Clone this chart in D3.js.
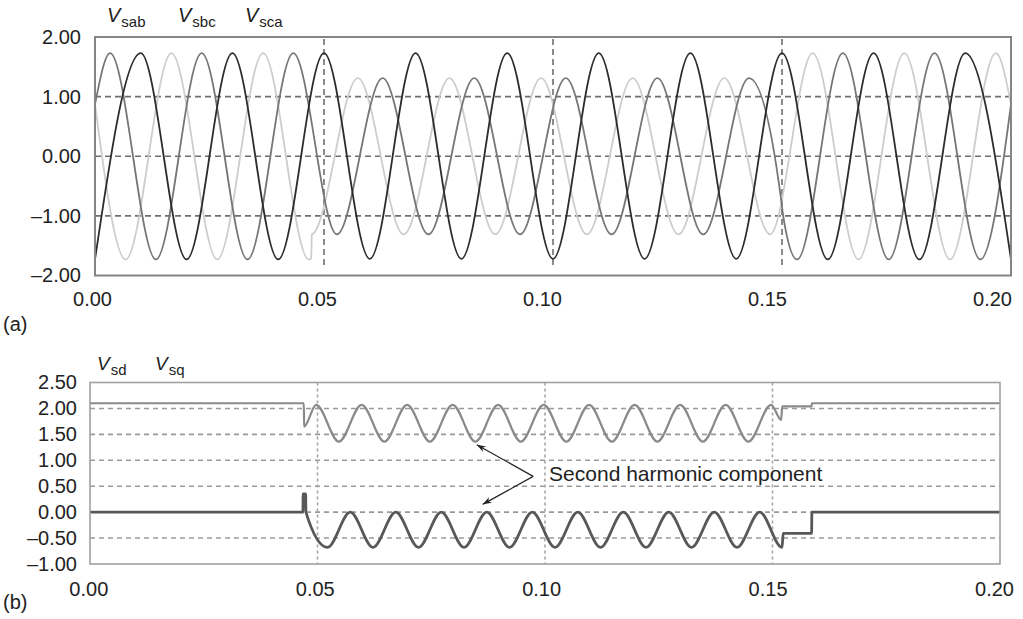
<!DOCTYPE html>
<html>
<head>
<meta charset="utf-8">
<script src="https://cdn.jsdelivr.net/npm/d3@7"></script>
<style>
  body { margin: 0; background: #fff; }
  svg { display: block; }
  text { font-family: "Liberation Sans", Arial, Helvetica, sans-serif; fill: #222; }
</style>
</head>
<body>
<svg id="chart" width="1023" height="619"></svg>
<script>
// ================= DATA =================
// shared time axis
const xTicks      = [0, 0.05, 0.10, 0.15, 0.20];
const xTickLabels = ["0.00", "0.05", "0.10", "0.15", "0.20"];
const xGrid       = [0.05, 0.10, 0.15];

// panel (a) axis
const yTicksA      = [2, 1, 0, -1, -2];
const yTickLabelsA = ["2.00", "1.00", "0.00", "\u20131.00", "\u20132.00"];
const yGridA       = [1, 0, -1];
const seriesA      = ["sab", "sbc", "sca"];

// panel (b) axis
const yTicksB      = [2.5, 2, 1.5, 1, 0.5, 0, -0.5, -1];
const yTickLabelsB = ["2.50", "2.00", "1.50", "1.00", "0.50", "0.00", "\u20130.50", "\u20131.00"];
const yGridB       = [2, 1.5, 1, 0.5, 0, -0.5];
const seriesB      = ["sd", "sq"];

// Vsab (medium grey) – extrema (time s, value pu)
const tSab = [0, 0.0033, 0.0133, 0.0233, 0.0333, 0.0433, 0.0528, 0.0628, 0.0728, 0.0828,
              0.0928, 0.1028, 0.1128, 0.1228, 0.1328, 0.1428, 0.1498, 0.1503, 0.1533,
              0.1633, 0.1733, 0.1833, 0.1933, 0.2];
const vSab = [0.87, 1.73, -1.73, 1.73, -1.73, 1.73, -1.31, 1.31, -1.31, 1.31,
              -1.31, 1.31, -1.31, 1.31, -1.31, 1.31, -0.72, -1.02, -1.73,
              1.73, -1.73, 1.73, -1.73, 0.87];

// Vsbc (dark) – unaffected by the sag
const tSbc = [0, 0.01, 0.02, 0.03, 0.04, 0.05, 0.06, 0.07, 0.08, 0.09, 0.10,
              0.11, 0.12, 0.13, 0.14, 0.15, 0.16, 0.17, 0.18, 0.19, 0.2];
const vSbc = [-1.73, 1.73, -1.73, 1.73, -1.73, 1.73, -1.72, 1.73, -1.72, 1.73, -1.72,
              1.73, -1.72, 1.73, -1.72, 1.73, -1.73, 1.73, -1.73, 1.73, -1.73];

// Vsca (light grey)
const tSca = [0, 0.0067, 0.0167, 0.0267, 0.0367, 0.0467, 0.0472, 0.04735, 0.0476,
              0.0574, 0.0674, 0.0774, 0.0874, 0.0974, 0.1074, 0.1174, 0.1274, 0.1374,
              0.1474, 0.1567, 0.1667, 0.1767, 0.1867, 0.1967, 0.2];
const vSca = [0.87, -1.73, 1.73, -1.73, 1.73, -1.73, -1.72, -1.31, -1.30,
              1.31, -1.31, 1.31, -1.31, 1.31, -1.31, 1.31, -1.31, 1.31,
              -1.31, 1.73, -1.73, 1.73, -1.73, 1.73, 0.87];

// Vsd (panel b, grey)
const tSd = [0, 0.0470, 0.04705, 0.0497, 0.0547, 0.0597, 0.0647, 0.0697, 0.0747, 0.0797,
             0.0847, 0.0897, 0.0947, 0.0997, 0.1047, 0.1097, 0.1147, 0.1197, 0.1247,
             0.1297, 0.1347, 0.1397, 0.1447, 0.1497, 0.1519, 0.15215, 0.1586, 0.15865, 0.2];
const vSd = [2.10, 2.10, 1.65, 2.07, 1.36, 2.07, 1.36, 2.07, 1.36, 2.07,
             1.36, 2.07, 1.36, 2.07, 1.36, 2.07, 1.36, 2.07, 1.36,
             2.07, 1.36, 2.07, 1.36, 2.07, 1.78, 2.04, 2.04, 2.10, 2.10];

// Vsq (panel b, dark)
const tSq = [0, 0.0468, 0.04685, 0.0474, 0.04745, 0.0522, 0.0572, 0.0622, 0.0672, 0.0722,
             0.0772, 0.0822, 0.0872, 0.0922, 0.0972, 0.1022, 0.1072, 0.1122, 0.1172,
             0.1222, 0.1272, 0.1322, 0.1372, 0.1422, 0.1472, 0.1521, 0.15235, 0.1586, 0.15865, 0.2];
const vSq = [0, 0, 0.35, 0.35, 0.0, -0.68, 0.0, -0.68, 0.0, -0.68,
             0.0, -0.68, 0.0, -0.68, 0.0, -0.68, 0.0, -0.68, 0.0,
             -0.68, 0.0, -0.68, 0.0, -0.68, 0.0, -0.68, -0.41, -0.41, 0, 0];

const annotationText = "Second harmonic component";

// ================= DRAWING =================
const zip = (ts, vs) => ts.map((t, i) => ({ t: t, v: vs[i] }));
const svg = d3.select("#chart");
const FONT = 20;

// ---------- panel (a) ----------
const xA = d3.scaleLinear().domain([0, 0.2]).range([95, 1011]);
const yA = d3.scaleLinear().domain([-2, 2]).range([275.5, 37]);
const xLabA = d3.scaleLinear().domain([0, 0.2]).range([92, 992]);

const gA = svg.append("g");
gA.selectAll("line.gh").data(yGridA).join("line")
  .attr("x1", xA(0)).attr("x2", xA(0.2))
  .attr("y1", d => yA(d)).attr("y2", d => yA(d))
  .attr("stroke", "#6f6f6f").attr("stroke-width", 1.6).attr("stroke-dasharray", "6,4");
gA.selectAll("line.gv").data(xGrid).join("line")
  .attr("x1", d => xA(d)).attr("x2", d => xA(d))
  .attr("y1", yA(2) + 2).attr("y2", yA(-1.86))
  .attr("stroke", "#6f6f6f").attr("stroke-width", 1.6).attr("stroke-dasharray", "6,4");

const lineA = d3.line().x(d => xA(d.t)).y(d => yA(d.v)).curve(d3.curveMonotoneX);
const dataA = [
  { d: zip(tSca, vSca), c: "#cdcdcd" },
  { d: zip(tSab, vSab), c: "#767676" },
  { d: zip(tSbc, vSbc), c: "#2c2c2c" }
];
gA.selectAll("path.s").data(dataA).join("path")
  .attr("d", s => lineA(s.d)).attr("fill", "none")
  .attr("stroke", s => s.c).attr("stroke-width", 1.8).attr("stroke-linejoin", "round");

gA.append("rect").attr("x", xA(0)).attr("y", yA(2))
  .attr("width", xA(0.2) - xA(0)).attr("height", yA(-2) - yA(2))
  .attr("fill", "none").attr("stroke", "#858585").attr("stroke-width", 2);

const axA = gA.append("g").attr("transform", `translate(${xA(0)},0)`)
  .call(d3.axisLeft(yA).tickValues(yTicksA).tickFormat((d, i) => yTickLabelsA[i])
        .tickSize(0).tickPadding(14));
axA.select(".domain").remove();
axA.selectAll("text").attr("font-size", FONT).attr("font-family", null);

const axAx = gA.append("g").attr("transform", "translate(0,291.5)")
  .call(d3.axisBottom(xLabA).tickValues(xTicks).tickFormat((d, i) => xTickLabels[i])
        .tickSize(0).tickPadding(0));
axAx.select(".domain").remove();
axAx.selectAll("text").attr("font-size", FONT).attr("font-family", null);

// series labels
const labPosA = [107, 178, 245];
seriesA.forEach((s, i) => {
  const t = svg.append("text").attr("x", labPosA[i]).attr("y", 22).attr("font-size", 20);
  t.append("tspan").attr("font-style", "italic").text("V");
  t.append("tspan").attr("font-size", 15).attr("dy", 5).attr("dx", 1).text(s);
});
svg.append("text").attr("x", 3).attr("y", 331).attr("font-size", FONT).text("(a)");

// ---------- panel (b) ----------
const xB = d3.scaleLinear().domain([0, 0.2]).range([90, 1000]);
const yB = d3.scaleLinear().domain([-1, 2.5]).range([564, 382.5]);
const xLabB = d3.scaleLinear().domain([0, 0.2]).range([88.3, 994]);

const gB = svg.append("g");
gB.selectAll("line.gh").data(yGridB).join("line")
  .attr("x1", xB(0)).attr("x2", xB(0.2))
  .attr("y1", d => yB(d)).attr("y2", d => yB(d))
  .attr("stroke", "#9a9a9a").attr("stroke-width", 1.6).attr("stroke-dasharray", "5,4");
gB.selectAll("line.gv").data(xGrid).join("line")
  .attr("x1", d => xB(d)).attr("x2", d => xB(d))
  .attr("y1", yB(2.5)).attr("y2", yB(-1))
  .attr("stroke", "#a5a5a5").attr("stroke-width", 1.6).attr("stroke-dasharray", "3,3");

const lineB = d3.line().x(d => xB(d.t)).y(d => yB(d.v)).curve(d3.curveMonotoneX);
gB.append("path").attr("d", lineB(zip(tSd, vSd))).attr("fill", "none")
  .attr("stroke", "#8a8a8a").attr("stroke-width", 2.2).attr("stroke-linejoin", "round");
gB.append("path").attr("d", lineB(zip(tSq, vSq))).attr("fill", "none")
  .attr("stroke", "#585858").attr("stroke-width", 2.8).attr("stroke-linejoin", "round");

gB.append("rect").attr("x", xB(0)).attr("y", yB(2.5))
  .attr("width", xB(0.2) - xB(0)).attr("height", yB(-1) - yB(2.5))
  .attr("fill", "none").attr("stroke", "#a0a0a0").attr("stroke-width", 1.6);

const axB = gB.append("g").attr("transform", `translate(${xB(0)},0)`)
  .call(d3.axisLeft(yB).tickValues(yTicksB).tickFormat((d, i) => yTickLabelsB[i])
        .tickSize(0).tickPadding(13));
axB.select(".domain").remove();
axB.selectAll("text").attr("font-size", FONT).attr("font-family", null);

const axBx = gB.append("g").attr("transform", "translate(0,581.5)")
  .call(d3.axisBottom(xLabB).tickValues(xTicks).tickFormat((d, i) => xTickLabels[i])
        .tickSize(0).tickPadding(0));
axBx.select(".domain").remove();
axBx.selectAll("text").attr("font-size", FONT).attr("font-family", null);

const labPosB = [97, 155];
seriesB.forEach((s, i) => {
  const t = svg.append("text").attr("x", labPosB[i]).attr("y", 370).attr("font-size", 19);
  t.append("tspan").attr("font-style", "italic").text("V");
  t.append("tspan").attr("font-size", 15).attr("dy", 5).attr("dx", 1).text(s);
});
svg.append("text").attr("x", 3).attr("y", 609).attr("font-size", FONT).text("(b)");

// annotation with arrows
const defs = svg.append("defs");
defs.append("marker").attr("id", "ah").attr("viewBox", "0 0 10 10")
  .attr("refX", 10).attr("refY", 5).attr("markerWidth", 9).attr("markerHeight", 9)
  .attr("orient", "auto").attr("markerUnits", "userSpaceOnUse")
  .append("path").attr("d", "M0,1.5 L10,5 L0,8.5 L3,5 Z").attr("fill", "#222");

const from = { t: 0.0974, v: 0.69 };
const tips = [{ t: 0.0850, v: 1.30 }, { t: 0.0863, v: 0.15 }];
gB.selectAll("line.arr").data(tips).join("line")
  .attr("x1", xB(from.t)).attr("y1", yB(from.v))
  .attr("x2", d => xB(d.t)).attr("y2", d => yB(d.v))
  .attr("stroke", "#222").attr("stroke-width", 1.2).attr("marker-end", "url(#ah)");
gB.append("text").attr("x", xB(0.1009)).attr("y", yB(0.60))
  .attr("font-size", 21).text(annotationText);
</script>
</body>
</html>
